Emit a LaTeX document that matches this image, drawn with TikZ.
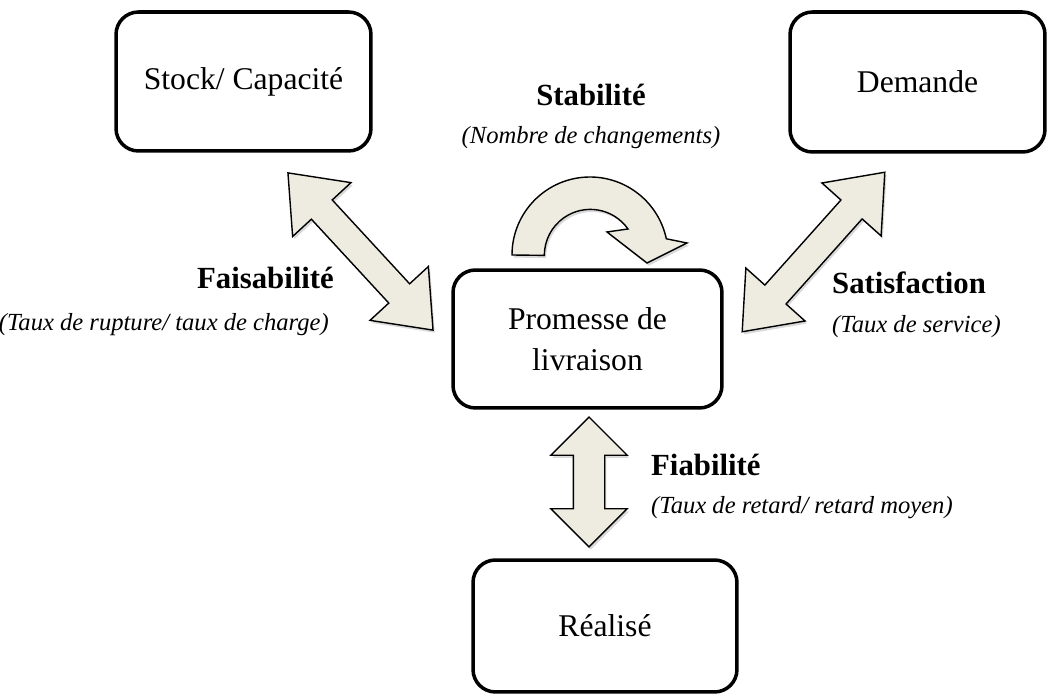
\documentclass[tikz,border=0pt]{standalone}
\usepackage{fontspec}
\setmainfont{Liberation Serif}
\usepackage{xcolor}
\definecolor{cbeige}{HTML}{EEECE1}
\usepackage{tikz}
\usetikzlibrary{shapes.arrows, shadows, positioning}
\tikzset{
x=0.02cm, y=-0.02cm,
Box/.style={
	draw, line width=2pt,
	rounded corners=0.45cm,
	align=center,
	font=\fontsize{18}{23}\selectfont
},
ArrowFill/.style={
	draw=black, line width=0.8pt,
	fill=cbeige,
	drop shadow={opacity=0.3, shadow xshift=1pt, shadow yshift=-1.5pt}
},
BlockArrow/.style={
	ArrowFill,
	double arrow,
	inner xsep=0pt,
	inner ysep=0.27cm,
	double arrow head extend=0.51cm,
	double arrow tip angle=77,
	minimum height=4.28cm
},
Criterion/.style={
	font=\fontsize{17.5}{21}\selectfont\bfseries
},
Measure/.style={
	font=\fontsize{14}{17}\selectfont\itshape
}
}

\begin{document}
\begin{tikzpicture}
	\useasboundingbox (0,0) rectangle (1049,695);

	\node[Box, minimum width=5.1cm, minimum height=2.78cm] (stock) at (243.5,81.5) {Stock/ Capacité};
	\node[Box, minimum width=5.1cm, minimum height=2.8cm] (demande) at (917.5,82) {Demande};
	\node[Box, minimum width=5.38cm, minimum height=2.76cm] (promesse) at (587.5,339) {Promesse de\\livraison};
	\node[Box, minimum width=5.28cm, minimum height=2.64cm] (realise) at (605,626) {Réalisé};

	% fleches entre les blocs
	\node[BlockArrow, rotate=-47.3] (faisafleche) at (360.5,251.5) {};
	\node[BlockArrow, rotate=48.2] (satisfleche) at (813.5,252) {};
	\node[BlockArrow, rotate=90, minimum height=2.6cm, inner ysep=0.3cm,
		double arrow head extend=0.45cm, double arrow tip angle=90] (fiabfleche) at (589,482) {};

	% boucle sur la promesse
	\draw[ArrowFill] (512,255) arc[start angle=180, end angle=348, radius=78]
		-- (687,243) -- (647,263) -- (607,232) -- (628,229)
		arc[start angle=325, end angle=180, radius=46] -- cycle;

	\node[Criterion] (stabilite) at (591,95) {Stabilité};
	\node[Measure] (stabmesure) at (591,138) {(Nombre de changements)};

	\node[Criterion, anchor=east] (faisabilite) at (340,278) {Faisabilité};
	\node[Measure, anchor=east] (faismesure) at (335,325) {(Taux de rupture/ taux de charge)};

	\node[Criterion, anchor=west] (satisfaction) at (826,283) {Satisfaction};
	\node[Measure, anchor=west] (satismesure) at (826,327) {(Taux de service)};

	\node[Criterion, anchor=west] (fiabilite) at (645,465) {Fiabilité};
	\node[Measure, anchor=west] (fiabmesure) at (645,508) {(Taux de retard/ retard moyen)};
\end{tikzpicture}
\end{document}
